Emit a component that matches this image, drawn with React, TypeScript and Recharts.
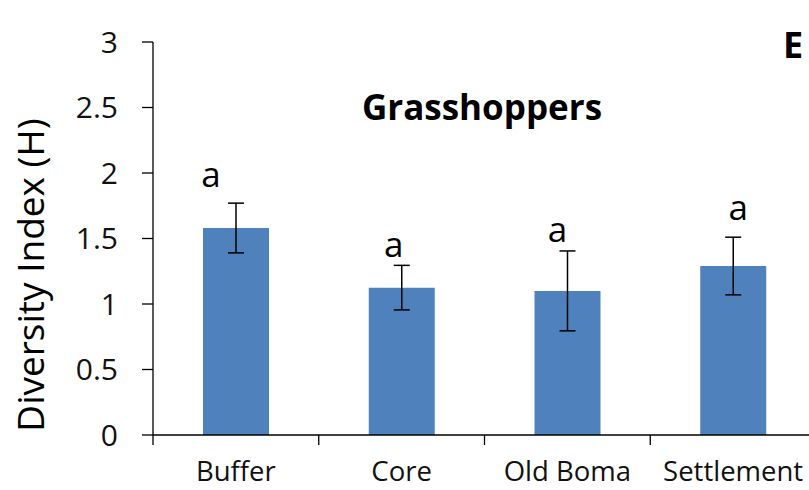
import { BarChart, Bar, XAxis, YAxis, ErrorBar, LabelList, Customized } from 'recharts';

const sites = ['Buffer', 'Core', 'Old Boma', 'Settlement'];
const diversity = [1.58, 1.125, 1.1, 1.29];
const stdErr = [0.19, 0.17, 0.305, 0.22];
const letters = ['a', 'a', 'a', 'a'];
const yTicks = [0, 0.5, 1, 1.5, 2, 2.5, 3];

const data = sites.map((site, i) => ({ site, h: diversity[i], err: stdErr[i], letter: letters[i] }));

const FONT = '"Open Sans", "Noto Sans", sans-serif';

// hand-placed letters in the original sit a bit off-centre
const letterShiftX = [-25, -8, -10, 5];
const letterGap = [16, 8, 9, 17];

function SiteTick(props: any) {
  const { x, y, payload } = props;
  const half = payload?.offset ?? 82.8;
  return (
    <g>
      <line x1={x - half} y1={y} x2={x - half} y2={y + 10} stroke="#000" strokeWidth={1.3} />
      <text x={x} y={y + 46} textAnchor="middle" fontFamily={FONT} fontSize={27.5} fill="#111">
        {payload.value}
      </text>
    </g>
  );
}

function LetterLabel(props: any) {
  const { index, value } = props;
  const vb = props.viewBox ?? props;
  const { x, y, width, height } = vb;
  const row = data[index];
  if (!row) return null;
  const pxPerUnit = height / row.h;
  const errTop = y - row.err * pxPerUnit;
  return (
    <text
      x={x + width / 2 + letterShiftX[index]}
      y={errTop - letterGap[index]}
      textAnchor="middle"
      fontFamily={FONT}
      fontSize={35}
      fill="#000"
    >
      {value}
    </text>
  );
}

function Annotations() {
  return (
    <g fontFamily={FONT} fill="#000">
      <text x={482} y={120} textAnchor="middle" fontSize={35} fontWeight="bold">
        Grasshoppers
      </text>
      <text x={783} y={58} fontSize={36} fontWeight="bold">
        E
      </text>
      <text x={44} y={275} transform="rotate(-90, 44, 275)" textAnchor="middle" fontSize={37}>
        Diversity Index (H)
      </text>
    </g>
  );
}

export default function App() {
  return (
    <div style={{ position: 'absolute', left: 0, top: 0, width: 809, height: 490, overflow: 'hidden', background: '#fff' }}>
      <BarChart width={830} height={490} data={data} margin={{ top: 42, right: 14, bottom: 0, left: 0 }}>
        <XAxis
          dataKey="site"
          axisLine={{ stroke: '#000', strokeWidth: 1.3 }}
          tickLine={false}
          tickSize={0}
          tickMargin={0}
          height={55}
          interval={0}
          tick={<SiteTick />}
        />
        <YAxis
          domain={[0, 3]}
          ticks={yTicks}
          width={153}
          axisLine={{ stroke: '#000', strokeWidth: 1.3 }}
          tickLine={{ stroke: '#000', strokeWidth: 1.3 }}
          tickSize={11}
          tickMargin={24}
          tick={{ fill: '#111', fontSize: 30, fontFamily: FONT }}
        />
        <Bar dataKey="h" fill="#4F81BD" barSize={66} isAnimationActive={false}>
          <ErrorBar dataKey="err" direction="y" width={8} stroke="#000" strokeWidth={1.5} />
          <LabelList dataKey="letter" content={<LetterLabel />} />
        </Bar>
        <Customized component={Annotations} />
      </BarChart>
    </div>
  );
}
